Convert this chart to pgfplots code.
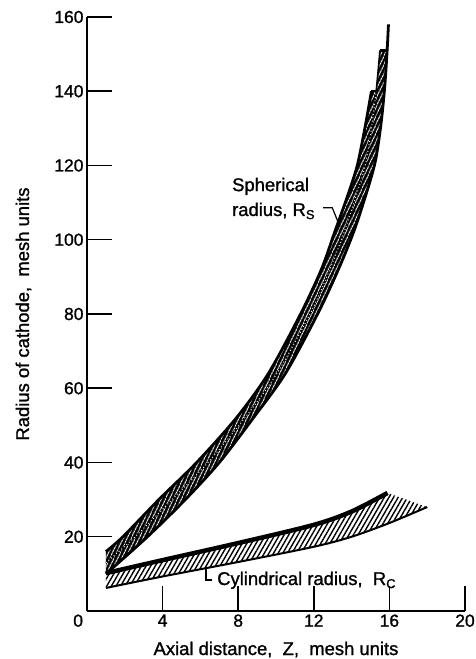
\documentclass[border=0pt]{standalone}
\usepackage{fontspec}
\setmainfont{Liberation Sans}[UprightFeatures={FakeBold=1.2}]
\usepackage{pgfplots}
\usepackage{pgfplotstable}
\pgfplotsset{compat=1.18}
\usepgfplotslibrary{fillbetween}
\usetikzlibrary{patterns.meta}

% spherical radius band: upper edge, middle line, lower edge
\pgfplotstableread{
z R
1 16
1.9 20
3.8 30
5.8 40
7.9 52
9.6 64
11.3 80
12.4 92
13.1 102
13.8 112
14.3 120
14.7 130
15.05 140
}\sphup
\pgfplotstableread{
z R
1 13
2.55 20
4.5 30
6.4 40
8.35 52
10.05 64
11.8 80
12.85 92
13.6 102
14.25 112
14.72 120
15.05 130
15.3 140
}\sphmidA
\pgfplotstableread{
z R
1 13
2.55 20
4.5 30
6.4 40
8.35 52
10.05 64
11.8 80
12.85 92
13.6 102
14.25 112
14.72 120
15.05 130
15.3 140
15.5 151
}\sphmid
\pgfplotstableread{
z R
1 10
3.2 20
5.2 30
7.0 40
8.8 52
10.5 64
12.2 80
13.3 92
14.1 102
14.75 112
15.25 121
15.55 131
15.75 141
15.88 151
}\sphlowA
\pgfplotstableread{
z R
1 10
3.2 20
5.2 30
7.0 40
8.8 52
10.5 64
12.2 80
13.3 92
14.1 102
14.75 112
15.25 121
15.55 131
15.75 141
15.88 151
15.95 158
}\sphlow

% cylindrical radius band
\pgfplotstableread{
z R
1 10.2
4 13.7
8 18.3
12 23.2
14 26.8
15.9 31.8
}\cylup
\pgfplotstableread{
z R
1 6.2
4 9.3
8 13.2
12 17.3
14 20.0
16 23.7
18 28.0
}\cyllow

\begin{document}
\begin{tikzpicture}[font=\fontsize{18.5}{22}\selectfont]
\begin{axis}[
  at={(0,0)}, anchor=south west,
  scale only axis, width=378bp, height=594bp,
  xmin=0, xmax=20, ymin=0, ymax=160,
  axis lines*=left,
  axis line style={-, line width=1.5bp},
  tick align=inside,
  major tick length=25bp,
  tick style={line width=1.5bp, black},
  xtick={0,4,8,12,16,20},
  xticklabels={\llap{0\hspace{4bp}},4,8,12,16,20},
  ytick={20,40,60,80,100,120,140,160},
  yticklabels={20,40,60,80,100,120,140,160},
  tick label style={font=\fontsize{17.5}{17.5}\selectfont},
  xlabel={Axial distance,\ \ Z,\ \ mesh units},
  ylabel={Radius of cathode,\ \ mesh units},
  xlabel style={at={(axis description cs:0.5,-0.0741)}, anchor=base},
  ylabel style={at={(axis description cs:-0.168,0.5)}, anchor=center},
  clip=false,
]
% spherical band
\addplot[draw=none, name path=U, smooth] table {\sphup};
\addplot[draw=none, name path=MA, smooth] table {\sphmidA};
\addplot[draw=none, name path=M, smooth] table {\sphmid};
\addplot[draw=none, name path=LA, smooth] table {\sphlowA};
\addplot[fill=black, postaction={pattern={Lines[angle=65,distance=3.6bp,line width=0.95bp]}, pattern color=white}]
  fill between[of=U and MA];
\addplot[fill=black, postaction={pattern={Lines[angle=65,distance=3.6bp,line width=0.95bp]}, pattern color=white}]
  fill between[of=M and LA];
\addplot[black, line width=2.8bp, smooth] table {\sphup};
\addplot[black, line width=2.8bp, smooth] table {\sphlow};
\addplot[black, line width=1.6bp, smooth] table {\sphmid};
\addplot[white, line width=0.9bp, smooth, dash pattern=on 1bp off 2.4bp] table {\sphmidA};
\addplot[black, line width=2.4bp] coordinates {(15.05,140) (15.3,140)};
\addplot[black, line width=2.4bp] coordinates {(15.5,151) (15.88,151)};

% cylindrical band
\addplot[draw=none, name path=CU, smooth] table {\cylup};
\addplot[draw=none, name path=CL, smooth] table {\cyllow};
\addplot[pattern={Lines[angle=60,distance=4bp,line width=1.4bp]}, pattern color=black]
  fill between[of=CU and CL];
\addplot[black, line width=4.5bp, smooth] table {\cylup};
\addplot[black, line width=2bp, smooth] table {\cyllow};

% labels
\node[anchor=base west, inner sep=0] at (axis cs:7.67,113.1) {Spherical};
\node[anchor=base west, inner sep=0] at (axis cs:7.67,106.4) {radius,\ R\textsubscript{S}};
\draw[line width=1.2bp] (axis cs:12.49,108.6) -- (axis cs:12.98,108.6) -- (axis cs:13.39,103.4);
\draw[line width=1.2bp] (axis cs:6.30,11.6) -- (axis cs:6.30,8.35) -- (axis cs:6.61,8.35);
\node[anchor=base west, inner sep=0] at (axis cs:6.88,7.0) {Cylindrical radius,\ \ R\textsubscript{C}};
\end{axis}
\pgfresetboundingbox
\path[use as bounding box] (-87bp,-48bp) rectangle (389bp,611bp);
\end{tikzpicture}
\end{document}
